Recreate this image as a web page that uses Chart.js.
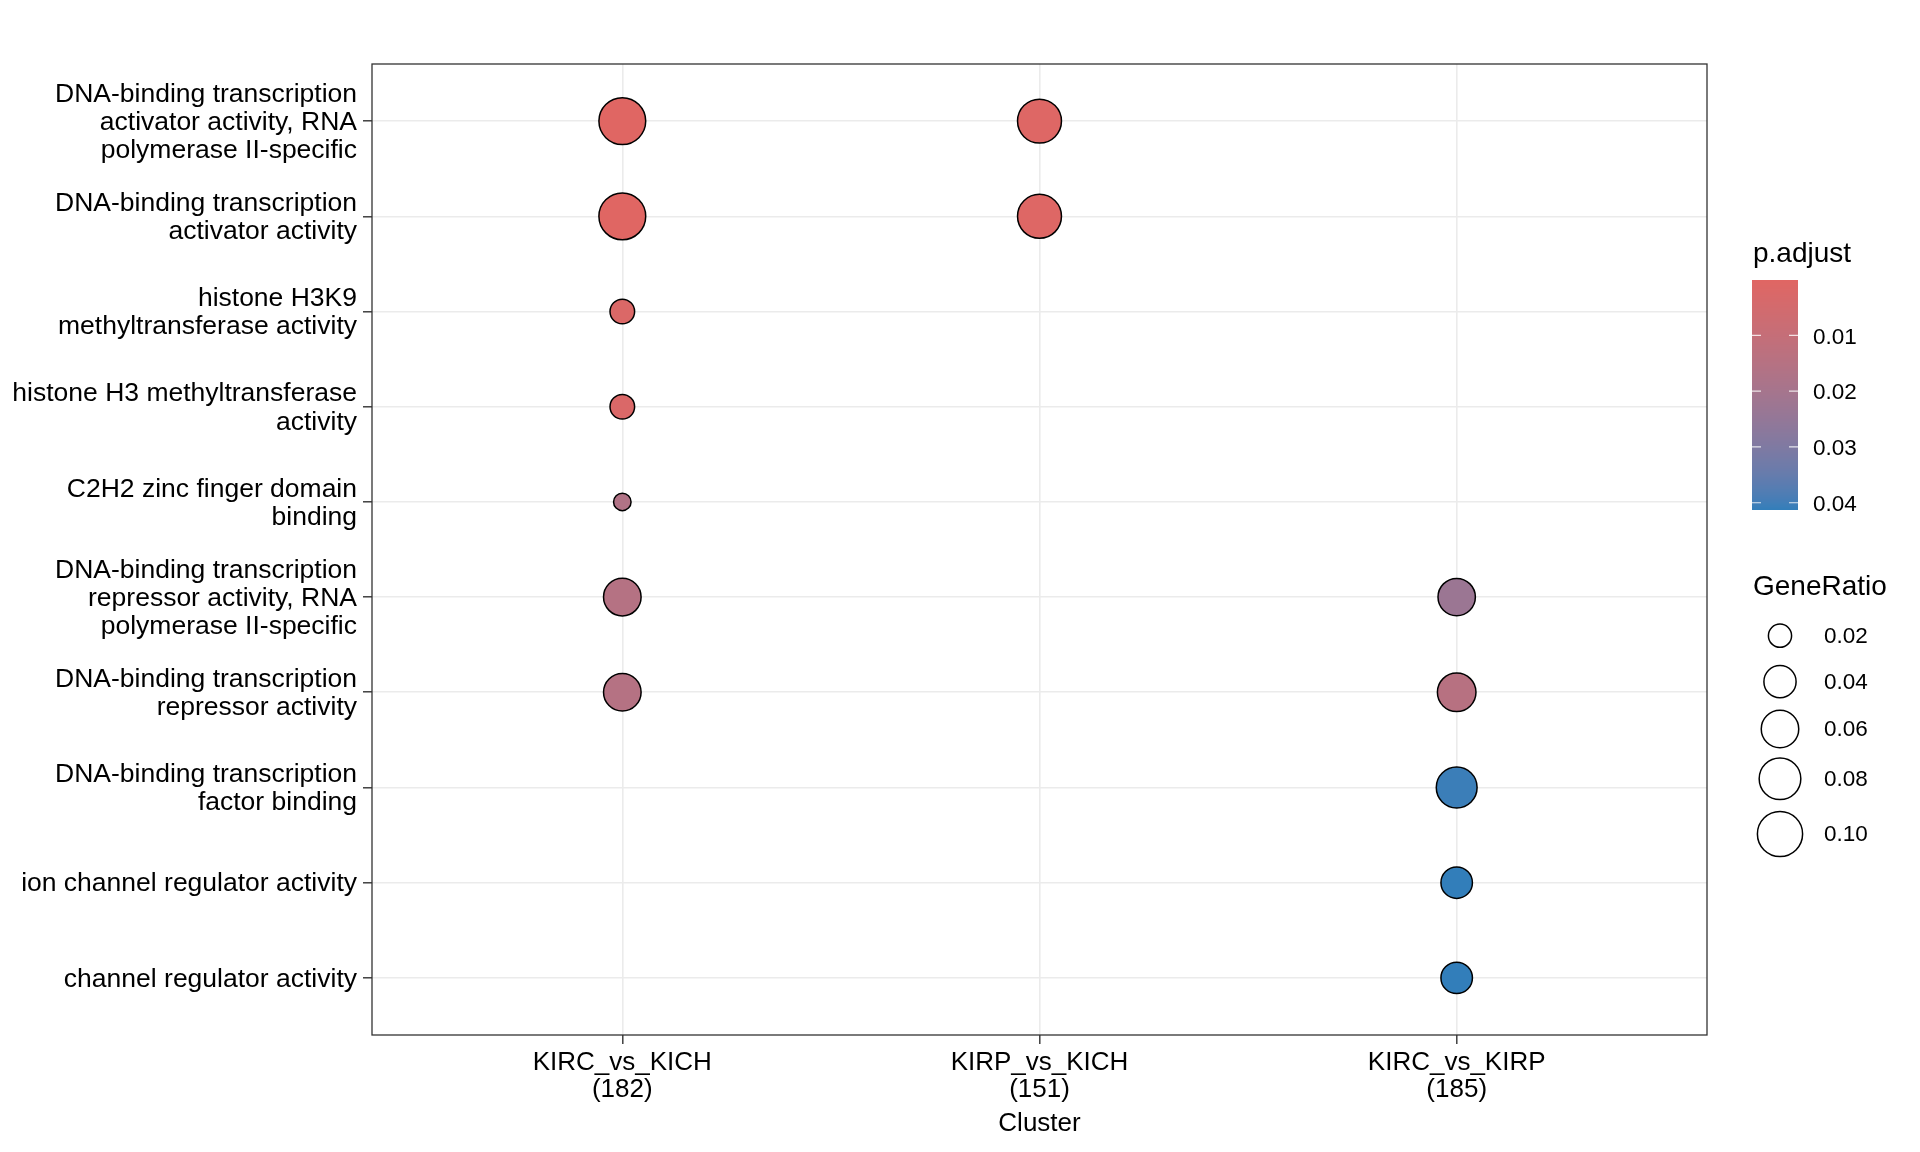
<!DOCTYPE html>
<html>
<head>
<meta charset="utf-8">
<script src="https://cdn.jsdelivr.net/npm/chart.js@4.4.1/dist/chart.umd.min.js"></script>
<style>
  html, body { margin: 0; padding: 0; background: #fff; }
  #wrap { width: 1920px; height: 1152px; }
</style>
</head>
<body>
<div id="wrap"><canvas id="dotChart" width="1920" height="1152"></canvas></div>
<script>
// GO terms, top to bottom
const terms = [
  ['DNA-binding transcription', 'activator activity, RNA', 'polymerase II-specific'],
  ['DNA-binding transcription', 'activator activity'],
  ['histone H3K9', 'methyltransferase activity'],
  ['histone H3 methyltransferase', 'activity'],
  ['C2H2 zinc finger domain', 'binding'],
  ['DNA-binding transcription', 'repressor activity, RNA', 'polymerase II-specific'],
  ['DNA-binding transcription', 'repressor activity'],
  ['DNA-binding transcription', 'factor binding'],
  ['ion channel regulator activity'],
  ['channel regulator activity']
];

const clusters = [['KIRC_vs_KICH', '(182)'], ['KIRP_vs_KICH', '(151)'], ['KIRC_vs_KIRP', '(185)']];

// one entry per dot
const dotCluster = [0, 1, 0, 1, 0, 0, 0, 0, 0, 2, 2, 2, 2, 2];
const dotTerm    = [0, 0, 1, 1, 2, 3, 4, 5, 6, 5, 6, 7, 8, 9];
const geneRatio  = [0.110, 0.0927, 0.110, 0.0927, 0.022, 0.022, 0.0165, 0.0604, 0.0604, 0.0595, 0.0649, 0.0757, 0.0378, 0.0378];
const pAdjust    = [0.00008, 0.0009, 0.00008, 0.0009, 0.0020, 0.0022, 0.0165, 0.0153, 0.0153, 0.0229, 0.0145, 0.0405, 0.0413, 0.0413];

const colorBreaks = [0.01, 0.02, 0.03, 0.04];
const sizeBreaks  = [0.02, 0.04, 0.06, 0.08, 0.10];

const FONT = '"Liberation Sans", Arial, Helvetica, sans-serif';

// ---- size scale (area scaling, like ggplot scale_size) ----
const grMin = Math.min(...geneRatio), grMax = Math.max(...geneRatio);
const sizeRange = [19, 48.3];   // outer diameter, px
const dotBorder = 1.5;
function dotDiameter(v) {
  const s = Math.max(0, (v - grMin) / (grMax - grMin));
  return sizeRange[0] + (sizeRange[1] - sizeRange[0]) * Math.sqrt(s);
}
function dotRadius(v) { return (dotDiameter(v) - dotBorder) / 2; }

// ---- colour scale, interpolated in CIELAB ----
function toLin(c) { c /= 255; return c <= 0.04045 ? c / 12.92 : Math.pow((c + 0.055) / 1.055, 2.4); }
function toSrgb(c) {
  const v = c <= 0.0031308 ? 12.92 * c : 1.055 * Math.pow(c, 1 / 2.4) - 0.055;
  return Math.round(Math.max(0, Math.min(1, v)) * 255);
}
function hexToLab(hex) {
  const r = toLin(parseInt(hex.slice(1, 3), 16));
  const g = toLin(parseInt(hex.slice(3, 5), 16));
  const b = toLin(parseInt(hex.slice(5, 7), 16));
  const X = (0.4124 * r + 0.3576 * g + 0.1805 * b) / 0.95047;
  const Y = 0.2126 * r + 0.7152 * g + 0.0722 * b;
  const Z = (0.0193 * r + 0.1192 * g + 0.9505 * b) / 1.08883;
  const f = t => t > 0.008856 ? Math.cbrt(t) : 7.787 * t + 16 / 116;
  return [116 * f(Y) - 16, 500 * (f(X) - f(Y)), 200 * (f(Y) - f(Z))];
}
function labToRgb(L, a, bb) {
  const fy = (L + 16) / 116, fx = fy + a / 500, fz = fy - bb / 200;
  const inv = t => t * t * t > 0.008856 ? t * t * t : (t - 16 / 116) / 7.787;
  const X = inv(fx) * 0.95047, Y = inv(fy), Z = inv(fz) * 1.08883;
  const r = 3.2406 * X - 1.5372 * Y - 0.4986 * Z;
  const g = -0.9689 * X + 1.8758 * Y + 0.0415 * Z;
  const b = 0.0557 * X - 0.2040 * Y + 1.0570 * Z;
  return 'rgb(' + toSrgb(r) + ',' + toSrgb(g) + ',' + toSrgb(b) + ')';
}
const lowLab = hexToLab('#e06663'), highLab = hexToLab('#327eba');
const pMin = Math.min(...pAdjust), pMax = Math.max(...pAdjust);
function pColor(p) {
  const t = Math.max(0, Math.min(1, (p - pMin) / (pMax - pMin)));
  return labToRgb(lowLab[0] + (highLab[0] - lowLab[0]) * t,
                  lowLab[1] + (highLab[1] - lowLab[1]) * t,
                  lowLab[2] + (highLab[2] - lowLab[2]) * t);
}

// panel border + the two legends
const ggExtras = {
  id: 'ggExtras',
  afterDraw(chart) {
    const ctx = chart.ctx, area = chart.chartArea;
    ctx.save();
    ctx.strokeStyle = '#333333';
    ctx.lineWidth = 1.3;
    ctx.strokeRect(area.left, area.top, area.right - area.left, area.bottom - area.top);

    // p.adjust colour bar
    ctx.fillStyle = '#000';
    ctx.textAlign = 'left';
    ctx.textBaseline = 'alphabetic';
    ctx.font = '28px ' + FONT;
    ctx.fillText('p.adjust', 1753, 262);
    const barX = 1752, barY = 280, barW = 46, barH = 230;
    for (let i = 0; i < barH; i++) {
      ctx.fillStyle = pColor(pMin + (i + 0.5) / barH * (pMax - pMin));
      ctx.fillRect(barX, barY + i, barW, 1);
    }
    ctx.strokeStyle = 'rgba(255,255,255,0.8)';
    ctx.lineWidth = 1.2;
    ctx.font = '22.5px ' + FONT;
    ctx.textBaseline = 'middle';
    colorBreaks.forEach(b => {
      const y = barY + (b - pMin) / (pMax - pMin) * barH;
      ctx.beginPath();
      ctx.moveTo(barX, y); ctx.lineTo(barX + 9, y);
      ctx.moveTo(barX + barW - 9, y); ctx.lineTo(barX + barW, y);
      ctx.stroke();
      ctx.fillStyle = '#000';
      ctx.fillText(b.toFixed(2), 1813, y + 2);
    });

    // GeneRatio size legend
    ctx.textBaseline = 'alphabetic';
    ctx.font = '28px ' + FONT;
    ctx.fillText('GeneRatio', 1753, 595);
    const keyY = [635.7, 681.7, 729, 778.7, 834];
    ctx.font = '22.5px ' + FONT;
    ctx.textBaseline = 'middle';
    sizeBreaks.forEach((b, i) => {
      ctx.beginPath();
      ctx.arc(1780, keyY[i], dotRadius(b), 0, Math.PI * 2);
      ctx.fillStyle = '#fff';
      ctx.fill();
      ctx.strokeStyle = '#000';
      ctx.lineWidth = dotBorder;
      ctx.stroke();
      ctx.fillStyle = '#000';
      ctx.fillText(b.toFixed(2), 1824, keyY[i] + 1);
    });
    ctx.restore();
  }
};

const axisFont = { family: FONT, size: 26.5, lineHeight: 1.064 };
const gridStyle = { color: '#EBEBEB', lineWidth: 1.6, tickColor: '#333333', tickWidth: 1.4, tickLength: 9 };

const dotChart = new Chart(document.getElementById('dotChart'), {
  type: 'scatter',
  data: {
    datasets: [{
      data: dotCluster.map((c, i) => ({ x: c, y: dotTerm[i] })),
      pointRadius: ctx => dotRadius(geneRatio[ctx.dataIndex]),
      pointBackgroundColor: ctx => pColor(pAdjust[ctx.dataIndex]),
      pointBorderColor: '#000',
      pointBorderWidth: dotBorder
    }]
  },
  options: {
    responsive: false,
    animation: false,
    devicePixelRatio: 1,
    events: [],
    layout: { padding: { left: 0, right: 213, top: 64, bottom: 0 } },
    plugins: { legend: { display: false }, tooltip: { enabled: false } },
    scales: {
      x: {
        type: 'linear', position: 'bottom', min: -0.6, max: 2.6,
        afterBuildTicks: s => { s.ticks = clusters.map((c, i) => ({ value: i })); },
        afterFit: s => { s.height = 117; },
        ticks: { callback: v => clusters[v], color: '#000', font: { family: FONT, size: 26, lineHeight: 1.05 },
                 padding: 5, autoSkip: false, maxRotation: 0 },
        grid: gridStyle,
        border: { display: false },
        title: { display: true, text: 'Cluster', color: '#000', font: { family: FONT, size: 26 },
                 padding: { top: 0, bottom: 12.5 } }
      },
      y: {
        type: 'linear', position: 'left', reverse: true, min: -0.6, max: 9.6,
        afterBuildTicks: s => { s.ticks = terms.map((t, i) => ({ value: i })); },
        afterFit: s => { s.width = 372; },
        ticks: { callback: v => terms[v], color: '#000', font: axisFont, padding: 6, autoSkip: false,
                 labelOffset: 1.5 },
        grid: gridStyle,
        border: { display: false }
      }
    }
  },
  plugins: [ggExtras]
});
</script>
</body>
</html>
